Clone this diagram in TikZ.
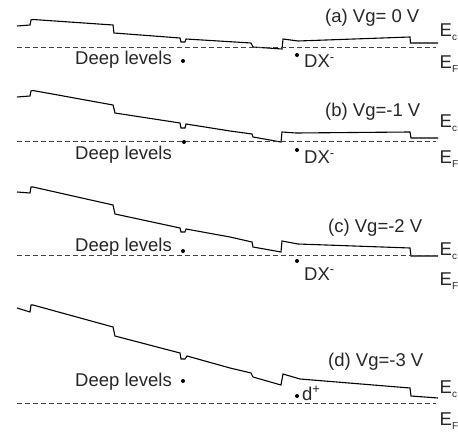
\documentclass[tikz,border=0pt]{standalone}
\usepackage{fontspec}
\setmainfont{Liberation Sans}
\newcommand{\lvsub}[1]{\raisebox{-4pt}{\fontsize{10}{10}\selectfont #1}}
\begin{document}
\begin{tikzpicture}[x=1pt,y=-1pt,
  band/.style={line width=1.1pt,line join=miter},
  fermi/.style={line width=0.8pt,black!75,dash pattern=on 5pt off 3pt},
  lbl/.style={anchor=base west,inner sep=0pt,font=\fontsize{18.5}{21}\selectfont,text=black!85},
  dotc/.style={circle,fill=black,inner sep=0pt,minimum size=4pt}]
\useasboundingbox (0,0) rectangle (458,433);
% panel (a)
\draw[band] (17,26)--(30,25)--(31,20)--(33,19.5)--(113,25)--(114,33)--(180,38)--(181,42)--(185,42)--(186,39)--(251,43)--(253,47)--(282,49)--(283,39)--(298,41)--(410,37)--(410.5,43)--(438,43);
\draw[fermi] (17,47)--(436,47);
\node[lbl] (dla) at (75,65) {Deep levels};
\node[dotc] (da) at (183,61) {};
\node[dotc] (dxa) at (297,55) {};
\node[lbl] (dxla) at (304,68) {DX\textsuperscript{-}};
\node[lbl] (va) at (325,22.7) {(a) Vg= 0 V};
\node[lbl] (eca) at (439.5,37) {E\lvsub{c}};
\node[lbl] (efa) at (439.5,69) {E\lvsub{F}};
% panel (b)
\draw[band] (17,97)--(30,96)--(31,91)--(33,90.5)--(113,105)--(115,113)--(180,123)--(181,128)--(185,128)--(186,124)--(230,131)--(252,134)--(253,137)--(281,142)--(282,132)--(296,133)--(410,132)--(411,138)--(438,138);
\draw[fermi] (17,141)--(436,141);
\node[lbl] (dlb) at (75,160) {Deep levels};
\node[dotc] (db) at (184,142) {};
\node[dotc] (dxb) at (297,150) {};
\node[lbl] (dxlb) at (304,164) {DX\textsuperscript{-}};
\node[lbl] (vb) at (325,117) {(b) Vg=-1 V};
\node[lbl] (ecb) at (439.5,128) {E\lvsub{c}};
\node[lbl] (efb) at (439.5,164) {E\lvsub{F}};
% panel (c)
\draw[band] (17,192)--(30,193)--(31,187)--(33,187)--(113,205)--(115,214)--(180,228)--(181,232)--(185,232)--(186,229)--(230,237)--(252,242)--(253,247)--(281,252)--(282,241)--(298,244)--(410,248)--(411,256)--(438,256);
\draw[fermi] (17,255)--(436,255);
\node[lbl] (dlc) at (75,251) {Deep levels};
\node[dotc] (dc) at (183,251) {};
\node[dotc] (dxc) at (297,261) {};
\node[lbl] (dxlc) at (304,280) {DX\textsuperscript{-}};
\node[lbl] (vc) at (328,233) {(c) Vg=-2 V};
\node[lbl] (ecc) at (439.5,255) {E\lvsub{c}};
\node[lbl] (efc) at (439.5,285) {E\lvsub{F}};
% panel (d)
\draw[band] (17,308)--(30,312)--(31,305)--(33,305)--(113,327)--(115,336)--(180,353)--(181,359)--(185,359)--(187,356)--(230,368)--(251,373)--(253,377)--(281,385)--(283,374)--(300,379)--(410,388)--(411,396)--(438,398);
\draw[fermi] (17,403)--(436,403);
\node[lbl] (dld) at (75,386) {Deep levels};
\node[dotc] (dd) at (183,381) {};
\node[dotc] (dxd) at (297,396) {};
\node[lbl] (dxld) at (302,400) {d\textsuperscript{+}};
\node[lbl] (vd) at (328,366) {(d) Vg=-3 V};
\node[lbl] (ecd) at (439.5,393) {E\lvsub{c}};
\node[lbl] (efd) at (439.5,425) {E\lvsub{F}};
\end{tikzpicture}
\end{document}
